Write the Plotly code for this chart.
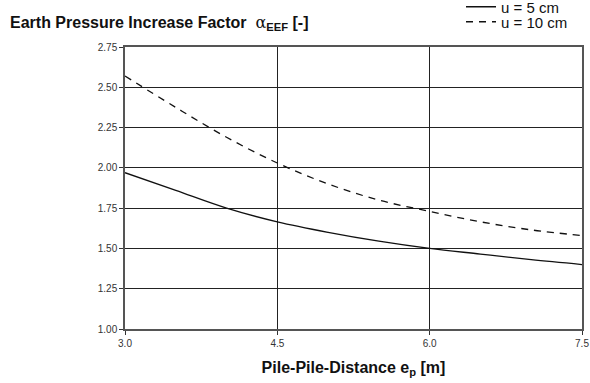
import plotly.graph_objects as go

x_vals = [3.0, 3.5, 4.0, 4.5, 5.0, 5.5, 6.0, 6.5, 7.0, 7.5]
u5_vals = [1.97, 1.86, 1.75, 1.665, 1.60, 1.545, 1.50, 1.465, 1.43, 1.40]
u10_vals = [2.57, 2.375, 2.19, 2.03, 1.90, 1.80, 1.73, 1.665, 1.615, 1.58]
x_ticks = [3.0, 4.5, 6.0, 7.5]
y_ticks = [1.00, 1.25, 1.50, 1.75, 2.00, 2.25, 2.50, 2.75]

fig = go.Figure()
fig.add_trace(go.Scatter(x=x_vals, y=u5_vals, mode="lines", name="u = 5 cm", legend="legend",
                         line=dict(color="#111111", width=1.3, shape="spline")))
fig.add_trace(go.Scatter(x=x_vals, y=u10_vals, mode="lines", name="u = 10 cm", legend="legend2",
                         line=dict(color="#111111", width=1.3, shape="spline", dash="7px,6px")))

leg_common = dict(xref="container", yref="container", xanchor="left", yanchor="middle",
                  font=dict(size=15, color="#111111"), bgcolor="rgba(0,0,0,0)",
                  itemwidth=30)

fig.update_layout(
    width=590, height=383,
    margin=dict(l=125, r=8, t=47, b=54, autoexpand=False),
    paper_bgcolor="white", plot_bgcolor="white",
    font=dict(family="Liberation Sans, Arial, sans-serif", color="#222222"),
    showlegend=True,
    legend=dict(x=461/590, y=1 - 7/383, **leg_common),
    legend2=dict(x=461/590, y=1 - 22/383, **leg_common),
    xaxis=dict(range=[3.0, 7.5], tickvals=x_ticks, ticktext=[f"{v:.1f}" for v in x_ticks],
               showgrid=True, gridcolor="#222222", gridwidth=1, automargin=False,
               showline=True, linecolor="#555555", linewidth=1.5, mirror=True,
               ticks="outside", ticklen=4, tickcolor="#333333",
               tickfont=dict(size=10, color="#333333"), zeroline=False,
               title=dict(text="<b>Pile-Pile-Distance e<sub>p</sub> [m]</b>",
                          font=dict(size=16, color="#111111"), standoff=14)),
    yaxis=dict(range=[1.0, 2.75], tickvals=y_ticks, ticktext=[f"{v:.2f}" for v in y_ticks],
               showgrid=True, gridcolor="#222222", gridwidth=1, automargin=False,
               showline=True, linecolor="#555555", linewidth=1.5, mirror=True,
               ticks="outside", ticklen=4, tickcolor="#333333",
               tickfont=dict(size=10, color="#333333"), zeroline=False),
    title=dict(text="<b>Earth Pressure Increase Factor</b>  <span style='font-family:DejaVu Serif'>α</span><sub><b>EEF</b></sub> <b>[-]</b>",
               x=10/590, xanchor="left", y=1 - 22/383, yanchor="middle",
               font=dict(size=16, color="#111111")),
)

fig.write_html("out.html", config={"displayModeBar": False},
               post_script="document.body.style.margin='0';document.body.style.padding='0';")
